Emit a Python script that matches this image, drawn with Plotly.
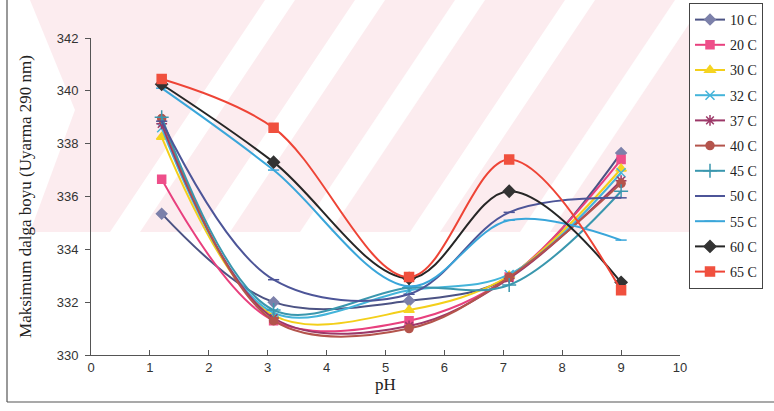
import plotly.graph_objects as go

# ---------------- data ----------------
ph = [1.2, 3.1, 5.4, 7.1, 9.0]
series_names = ["10 C", "20 C", "30 C", "32 C", "37 C", "40 C", "45 C", "50 C", "55 C", "60 C", "65 C"]
t10 = [335.35, 332.0, 332.05, 332.95, 337.65]
t20 = [336.65, 331.3, 331.3, 332.95, 337.4]
t30 = [338.25, 331.5, 331.7, 333.0, 337.05]
t32 = [338.6, 331.6, 332.45, 333.05, 336.9]
t37 = [338.75, 331.4, 331.1, 332.9, 336.6]
t40 = [338.95, 331.3, 331.0, 332.95, 336.5]
t45 = [339.0, 331.7, 332.55, 332.65, 336.2]
t50 = [338.85, 332.85, 332.3, 335.4, 335.95]
t55 = [340.1, 337.0, 332.6, 335.1, 334.35]
t60 = [340.25, 337.3, 332.9, 336.2, 332.75]
t65 = [340.45, 338.6, 332.95, 337.4, 332.45]
values = [t10, t20, t30, t32, t37, t40, t45, t50, t55, t60, t65]

x_ticks = list(range(0, 11))
y_ticks = list(range(330, 343, 2))

# ---------------- styles ----------------
styles = [
    dict(color="#4c5384", mcolor="#7c80aa", symbol="diamond", size=8),
    dict(color="#e8407e", mcolor="#ee4f8a", symbol="square", size=8),
    dict(color="#f3cf1a", mcolor="#f5d422", symbol="triangle-up", size=9),
    dict(color="#44b4da", mcolor="#44b4da", symbol="x-thin-open", size=9),
    dict(color="#9c3868", mcolor="#9c3868", symbol="asterisk-open", size=9),
    dict(color="#b4544c", mcolor="#b4544c", symbol="circle", size=8),
    dict(color="#3a97ae", mcolor="#3a97ae", symbol="cross-thin-open", size=10),
    dict(color="#4d5598", mcolor="#4d5598", symbol="line-ew-open", size=8),
    dict(color="#3aa6da", mcolor="#3aa6da", symbol="line-ew-open", size=8),
    dict(color="#262626", mcolor="#333333", symbol="diamond", size=9),
    dict(color="#ee4436", mcolor="#f0503e", symbol="square", size=9),
]

fig = go.Figure()
for i, (name, vals, st) in enumerate(zip(series_names, values, styles)):
    fig.add_trace(go.Scatter(
        x=ph, y=vals, name=name, mode="lines+markers",
        line=dict(color=st["color"], width=2, shape="spline", smoothing=1.0),
        marker=dict(symbol=st["symbol"], size=st["size"], color=st["mcolor"],
                    line=dict(color=st["mcolor"], width=1.5)),
        legendgroup=f"g{i}",
    ))

# ---------------- watermark & frame (pixel helpers) ----------------
W, H = 774, 411
L, R, T, B = 91, 680, 38, 355
def px(xpx):
    return (xpx - L) / (R - L)
def py(ypx):
    return (B - ypx) / (B - T)
def path(pts):
    return "M " + " L ".join(f"{px(a):.4f},{py(b):.4f}" for a, b in pts) + " Z"

shapes = []
pink = "rgba(246,196,206,0.32)"
shapes.append(dict(type="path", xref="paper", yref="paper", layer="below",
                   path=path([(95, 0), (690, 0), (690, 232), (95, 232)]),
                   fillcolor=pink, line=dict(width=0)))
# left chevron
shapes.append(dict(type="path", xref="paper", yref="paper", layer="below",
                   path=path([(30, 0), (95, 0), (95, 232), (30, 232), (75, 110)]),
                   fillcolor=pink, line=dict(width=0)))
# white diagonal stripes
for x0 in [110, 200, 300, 410, 520]:
    shapes.append(dict(type="path", xref="paper", yref="paper", layer="below",
                       path=path([(x0, 232), (x0 + 30, 232), (x0 + 30 + 155, 0), (x0 + 155, 0)]),
                       fillcolor="white", line=dict(width=0)))
# chart frame lines
shapes.append(dict(type="line", xref="paper", yref="paper",
                   x0=px(7), x1=px(7), y0=py(-5), y1=py(402),
                   line=dict(color="#555555", width=1.2)))
shapes.append(dict(type="line", xref="paper", yref="paper",
                   x0=px(7), x1=px(774), y0=py(402), y1=py(402),
                   line=dict(color="#555555", width=1.2)))

fig.update_layout(
    width=W, height=H,
    margin=dict(l=L, r=W - R, t=T, b=H - B, pad=0, autoexpand=False),
    paper_bgcolor="white", plot_bgcolor="rgba(0,0,0,0)",
    shapes=shapes,
    showlegend=True,
    legend=dict(
        xref="container", yref="container",
        x=689 / W, y=1 - 3 / H, xanchor="left", yanchor="top",
        bgcolor="rgba(0,0,0,0)", bordercolor="#444444", borderwidth=1,
        font=dict(family="Liberation Serif, Times New Roman, serif", size=14, color="#222222"),
        tracegroupgap=4, traceorder="grouped", itemwidth=30, maxheight=1,
    ),
    xaxis=dict(
        range=[0, 10], tickvals=x_ticks, ticktext=[str(v) for v in x_ticks],
        showgrid=False, zeroline=False, showline=True, linecolor="#555555", linewidth=1,
        ticks="inside", ticklen=5, tickcolor="#555555", automargin=False,
        tickfont=dict(family="Liberation Sans, Arial, sans-serif", size=13, color="#333333"),
        title=dict(text="pH", font=dict(family="Liberation Serif, Times New Roman, serif", size=17, color="#222222"), standoff=2),
    ),
    yaxis=dict(
        range=[330, 342], tickvals=y_ticks, ticktext=[str(v) for v in y_ticks],
        showgrid=False, zeroline=False, showline=True, linecolor="#555555", linewidth=1,
        ticks="outside", ticklen=5, tickcolor="#555555", automargin=False,
        ticklabelstandoff=4,
        tickfont=dict(family="Liberation Sans, Arial, sans-serif", size=13, color="#333333"),
        title=dict(text="Maksimum dalga boyu (Uyarma 290 nm)",
                   font=dict(family="Liberation Serif, Times New Roman, serif", size=17, color="#222222"), standoff=20),
    ),
)

fig.write_html("out.html", config={"displayModeBar": False},
               post_script="document.body.style.margin='0px';")
